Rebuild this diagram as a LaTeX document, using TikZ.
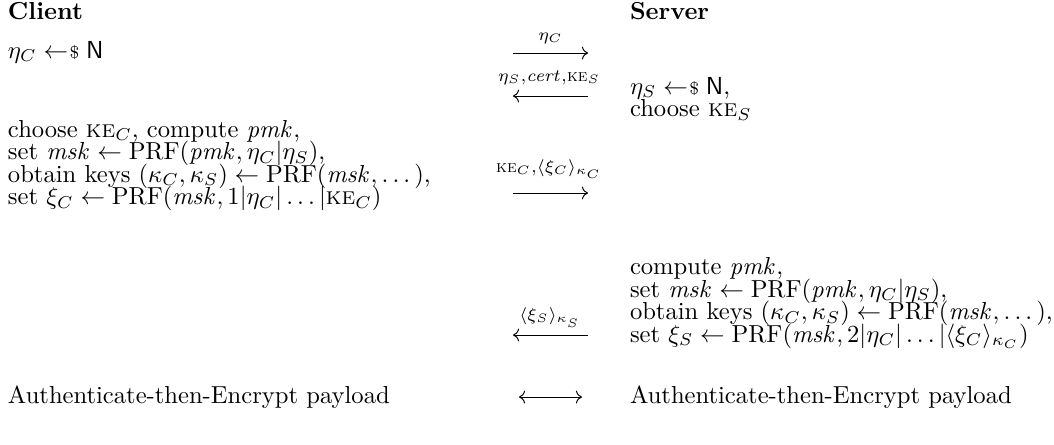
\documentclass[tikz,border=0pt]{standalone}
\usepackage{amsmath}
\usetikzlibrary{arrows.meta}
\newcommand{\sampleget}{\mathrel{{\leftarrow}\mkern1mu{\scriptstyle\$}}}
\newcommand{\keop}{\text{\textsc{ke}}}
\begin{document}
\begin{tikzpicture}[x=0.40655pt,y=-0.40655pt,
  txt/.style={anchor=base west,inner sep=0pt,outer sep=0pt},
  lbl/.style={anchor=base,inner sep=0pt,outer sep=0pt},
  msg/.style={line width=0.4pt,-{Computer Modern Rightarrow}},
  bimsg/.style={line width=0.4pt,{Computer Modern Rightarrow}-{Computer Modern Rightarrow}}]
\useasboundingbox (0,0) rectangle (1054,444);
% headers
\node[txt] (client) at (8,19) {\textbf{Client}};
\node[txt] (server) at (630,19) {\textbf{Server}};
% row 1
\node[txt] (c1) at (8,58) {$\eta_C \sampleget \mathsf{N}$};
\coordinate (a1s) at (513,53);
\coordinate (a1e) at (588,53);
\node[lbl] (l1) at (550.5,40.5) {$\scriptstyle\eta_C$};
\draw[msg] (a1s) -- (a1e);
% row 2
\node[txt] (s1) at (630,94) {$\eta_S \sampleget \mathsf{N}$,};
\node[txt] (s2) at (630,116.5) {choose \textsc{ke}$_S$};
\coordinate (a2s) at (588,96);
\coordinate (a2e) at (513,96);
\node[lbl] (l2) at (549,81.5) {$\scriptstyle\eta_S,\mathit{cert},\keop_S$};
\draw[msg] (a2s) -- (a2e);
% row 3 client block
\node[txt] (c2) at (8,137) {choose \textsc{ke}$_C$, compute $\mathit{pmk}$,};
\node[txt] (c3) at (8,159.5) {set $\mathit{msk} \leftarrow \mathrm{PRF}(\mathit{pmk},\eta_C|\eta_S)$,};
\node[txt] (c4) at (8,182) {obtain keys $(\kappa_C,\kappa_S) \leftarrow \mathrm{PRF}(\mathit{msk},\dots)$,};
\node[txt] (c5) at (8,204.5) {set $\xi_C \leftarrow \mathrm{PRF}(\mathit{msk},1|\eta_C|\dots|\keop_C)$};
\coordinate (a3s) at (513,193);
\coordinate (a3e) at (588,193);
\node[lbl] (l3) at (549,172) {$\scriptstyle\keop_C,\langle\xi_C\rangle_{\kappa_C}$};
\draw[msg] (a3s) -- (a3e);
% row 4 server block
\node[txt] (s3) at (630,274.5) {compute $\mathit{pmk}$,};
\node[txt] (s4) at (630,297) {set $\mathit{msk} \leftarrow \mathrm{PRF}(\mathit{pmk},\eta_C|\eta_S)$,};
\node[txt] (s5) at (630,319.5) {obtain keys $(\kappa_C,\kappa_S) \leftarrow \mathrm{PRF}(\mathit{msk},\dots)$,};
\node[txt] (s6) at (630,342) {set $\xi_S \leftarrow \mathrm{PRF}(\mathit{msk},2|\eta_C|\dots|\langle\xi_C\rangle_{\kappa_C})$};
\coordinate (a4s) at (588,335);
\coordinate (a4e) at (513,335);
\node[lbl] (l4) at (550,320.5) {$\scriptstyle\langle\xi_S\rangle_{\kappa_S}$};
\draw[msg] (a4s) -- (a4e);
% row 5
\node[txt] (c6) at (8,403) {Authenticate-then-Encrypt payload};
\node[txt] (s7) at (630,403) {Authenticate-then-Encrypt payload};
\coordinate (a5s) at (519,397);
\coordinate (a5e) at (582,397);
\draw[bimsg] (a5s) -- (a5e);
\end{tikzpicture}
\end{document}
